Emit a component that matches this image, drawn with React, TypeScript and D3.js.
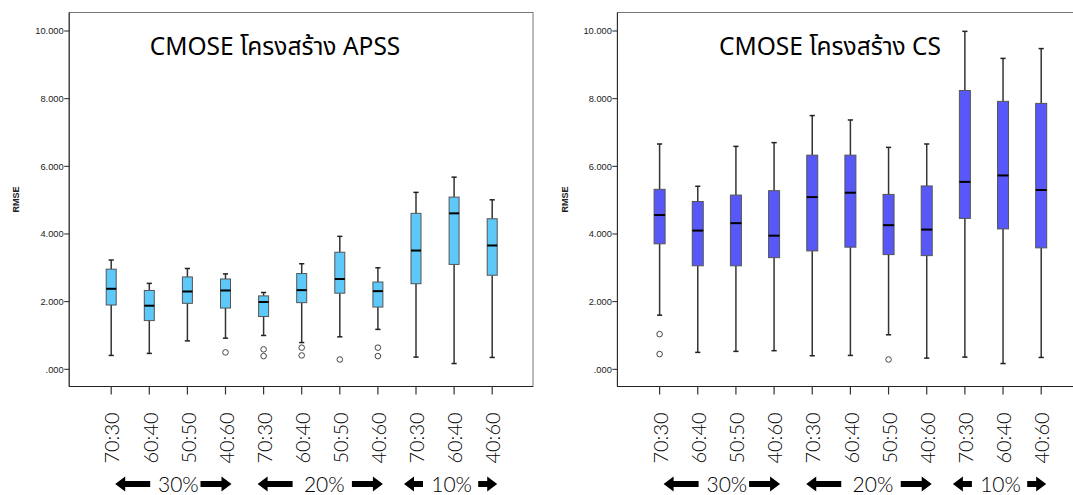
import React from "react";
import * as d3 from "d3";

const categories = ["70:30", "60:40", "50:50", "40:60", "70:30", "60:40", "50:50", "40:60", "70:30", "60:40", "40:60"];
const groupLabels = ["30%", "20%", "10%"];
const groupRanges = [[0, 3], [4, 7], [8, 10]];
const yTicks = [0, 2, 4, 6, 8, 10];

// APSS
const apssMin = [0.41, 0.47, 0.84, 0.92, 1.0, 0.79, 0.96, 1.18, 0.36, 0.17, 0.35];
const apssQ1 = [1.9, 1.44, 1.95, 1.81, 1.56, 1.97, 2.25, 1.84, 2.53, 3.1, 2.78];
const apssMed = [2.38, 1.88, 2.3, 2.33, 1.99, 2.34, 2.67, 2.31, 3.51, 4.61, 3.66];
const apssQ3 = [2.96, 2.33, 2.73, 2.67, 2.17, 2.83, 3.46, 2.58, 4.61, 5.09, 4.45];
const apssMax = [3.23, 2.54, 2.98, 2.82, 2.27, 3.12, 3.93, 3.0, 5.23, 5.68, 5.01];
const apssOut = [[], [], [], [0.5], [0.59, 0.39], [0.64, 0.41], [0.29], [0.64, 0.39], [], [], []];

// CS
const csMin = [1.6, 0.5, 0.53, 0.55, 0.4, 0.41, 1.02, 0.33, 0.36, 0.17, 0.35];
const csQ1 = [3.71, 3.06, 3.06, 3.3, 3.5, 3.61, 3.39, 3.36, 4.46, 4.15, 3.59];
const csMed = [4.56, 4.1, 4.32, 3.95, 5.09, 5.22, 4.26, 4.13, 5.54, 5.73, 5.3];
const csQ3 = [5.32, 4.96, 5.15, 5.28, 6.33, 6.33, 5.17, 5.42, 8.24, 7.92, 7.86];
const csMax = [6.66, 5.41, 6.59, 6.7, 7.5, 7.37, 6.56, 6.66, 9.99, 9.19, 9.48];
const csOut = [[1.04, 0.45], [], [], [], [], [], [0.29], [], [], [], []];

const TITLE_FONT = "Tahoma, 'Noto Sans Thai', 'Noto Sans', 'DejaVu Sans', sans-serif";
const AXIS_FONT = "'Liberation Sans', Arial, sans-serif";
const LABEL_FONT = "'Lato', 'Liberation Sans', sans-serif";

// annotation arrow layout per group: [start offset, end offset, arrow lengths, text shift]
const groupArrowStyle = [
  { s: 4, e: 6, lenL: 35, lenR: 31, shift: 5 },
  { s: -6, e: 5, lenL: 35, lenR: 31, shift: 4 },
  { s: -12, e: 5, lenL: 19, lenR: 19, shift: 1 },
];

type PanelProps = {
  title: string;
  fill: string;
  frame: [number, number];
  tickRange: [number, number];
  boxW: number;
  mins: number[];
  q1: number[];
  med: number[];
  q3: number[];
  maxs: number[];
  outs: number[][];
  titleX: number;
};

const yScale = d3.scaleLinear().domain([0, 10]).range([369.3, 31]);
const fmt = (v: number) => {
  const s = d3.format(".3f")(v);
  return s.startsWith("0.") ? s.slice(1) : s;
};

function Arrow({ x0, x1, dir }: { x0: number; x1: number; dir: "left" | "right" }) {
  const cy = 484;
  const head = 10;
  const hh = 7.5;
  const sh = 3;
  let d: string;
  if (dir === "left") {
    d = `M${x0},${cy} L${x0 + head},${cy - hh} L${x0 + head},${cy - sh} L${x1},${cy - sh} L${x1},${cy + sh} L${x0 + head},${cy + sh} L${x0 + head},${cy + hh} Z`;
  } else {
    d = `M${x1},${cy} L${x1 - head},${cy - hh} L${x1 - head},${cy - sh} L${x0},${cy - sh} L${x0},${cy + sh} L${x1 - head},${cy + sh} L${x1 - head},${cy + hh} Z`;
  }
  return <path d={d} fill="#000" />;
}

function Panel(p: PanelProps) {
  const x = d3
    .scalePoint<number>()
    .domain(categories.map((_, i) => i))
    .range(p.tickRange);
  const [fx0, fx1] = p.frame;
  const fy0 = 12.5;
  const fy1 = 386.5;
  const cap = 2.6;
  return (
    <g>
      <rect x={fx0} y={fy0} width={fx1 - fx0} height={fy1 - fy0} fill="#fff" stroke="#777" strokeWidth={1} />
      <line x1={fx0} x2={fx0} y1={fy0} y2={fy1} stroke="#222" strokeWidth={1} />
      <line x1={fx0} x2={fx1} y1={fy1} y2={fy1} stroke="#222" strokeWidth={1} />
      {yTicks.map((t) => (
        <g key={t}>
          <line x1={fx0 - 5} x2={fx0} y1={yScale(t)} y2={yScale(t)} stroke="#222" strokeWidth={1} />
          <text x={fx0 - 5.5} y={yScale(t)} dy="0.35em" textAnchor="end" fontSize={9.3} fontFamily={AXIS_FONT} fill="#222">
            {fmt(t)}
          </text>
        </g>
      ))}
      <text
        transform={`translate(${fx0 - 53},${(fy0 + fy1) / 2}) rotate(-90)`}
        textAnchor="middle"
        dy="0.35em"
        fontSize={9}
        fontWeight="bold"
        fontFamily={AXIS_FONT}
        fill="#222"
      >
        RMSE
      </text>
      <text x={p.titleX} y={55} textAnchor="middle" fontSize={24.5} fontFamily={TITLE_FONT} fill="#000">
        {p.title}
      </text>
      {categories.map((c, i) => (
        <g key={i}>
          <line x1={x(i)!} x2={x(i)!} y1={fy1} y2={fy1 + 8} stroke="#333" strokeWidth={1.2} />
          <text
            transform={`translate(${x(i)! + 1},438) rotate(-90)`}
            textAnchor="middle"
            dy="0.36em"
            fontSize={20}
            fontFamily={LABEL_FONT}
            fontWeight={300}
            fill="#000"
          >
            {c}
          </text>
        </g>
      ))}
      {categories.map((_, i) => {
        const cx = x(i)!;
        const w = p.boxW;
        return (
          <g key={"b" + i}>
            <line x1={cx} x2={cx} y1={yScale(p.maxs[i])} y2={yScale(p.q3[i])} stroke="#333" strokeWidth={1.5} />
            <line x1={cx} x2={cx} y1={yScale(p.q1[i])} y2={yScale(p.mins[i])} stroke="#333" strokeWidth={1.5} />
            <line x1={cx - cap} x2={cx + cap} y1={yScale(p.maxs[i])} y2={yScale(p.maxs[i])} stroke="#222" strokeWidth={1.5} />
            <line x1={cx - cap} x2={cx + cap} y1={yScale(p.mins[i])} y2={yScale(p.mins[i])} stroke="#222" strokeWidth={1.5} />
            <rect
              x={cx - w / 2}
              y={yScale(p.q3[i])}
              width={w}
              height={yScale(p.q1[i]) - yScale(p.q3[i])}
              fill={p.fill}
              stroke="#555"
              strokeWidth={1}
            />
            <line x1={cx - w / 2} x2={cx + w / 2} y1={yScale(p.med[i])} y2={yScale(p.med[i])} stroke="#000" strokeWidth={2} />
            {p.outs[i].map((o, k) => (
              <circle key={k} cx={cx} cy={yScale(o)} r={2.8} fill="#fff" stroke="#444" strokeWidth={1} />
            ))}
          </g>
        );
      })}
      {groupRanges.map(([a, b], g) => {
        const st = groupArrowStyle[g];
        const left = x(a)! + st.s;
        const right = x(b)! + st.e;
        const mid = (left + right) / 2 + st.shift;
        return (
          <g key={"g" + g}>
            <Arrow x0={left} x1={left + st.lenL} dir="left" />
            <Arrow x0={right - st.lenR} x1={right} dir="right" />
            <text x={mid} y={492} textAnchor="middle" fontSize={21} fontFamily={LABEL_FONT} fontWeight={300} fill="#000">
              {groupLabels[g]}
            </text>
          </g>
        );
      })}
    </g>
  );
}

export default function App() {
  return (
    <div style={{ position: "absolute", left: 0, top: 0 }}>
      <svg width={1073} height={495} style={{ display: "block", background: "#fff" }}>
        <Panel
          title="CMOSE โครงสร้าง APSS"
          fill="#5ec8f8"
          frame={[69.2, 533]}
          tickRange={[111.2, 492.2]}
          boxW={10}
          mins={apssMin}
          q1={apssQ1}
          med={apssMed}
          q3={apssQ3}
          maxs={apssMax}
          outs={apssOut}
          titleX={275}
        />
        <Panel
          title="CMOSE โครงสร้าง CS"
          fill="#5858f8"
          frame={[617.4, 1085]}
          tickRange={[659.6, 1041.2]}
          boxW={11}
          mins={csMin}
          q1={csQ1}
          med={csMed}
          q3={csQ3}
          maxs={csMax}
          outs={csOut}
          titleX={830}
        />
      </svg>
    </div>
  );
}
